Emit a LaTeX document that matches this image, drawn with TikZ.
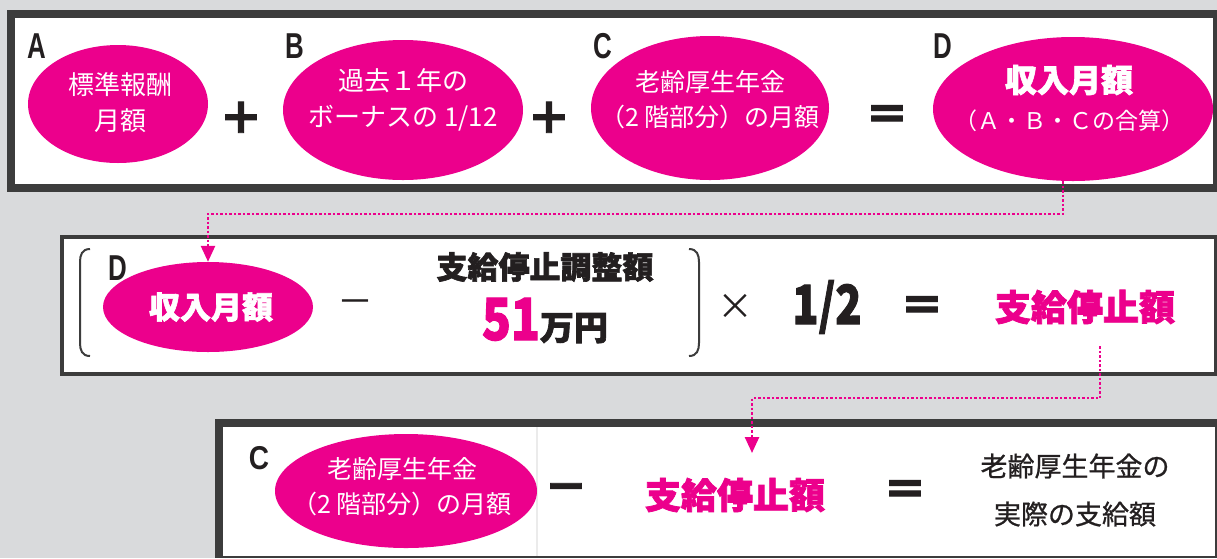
\documentclass[tikz,border=0pt]{standalone}
\usepackage{fontspec}
\setmainfont{Noto Sans CJK JP}
\newfontfamily\heavy{Noto Sans CJK JP}[BoldFeatures={FakeBold=2}]
\newfontfamily\med{Noto Sans CJK JP}[FakeBold=0.8]
\newfontfamily\lat{Liberation Sans}
\usetikzlibrary{arrows.meta,calc,shapes.geometric}
\definecolor{bg}{HTML}{D9DADC}
\definecolor{frame}{HTML}{3C3C3C}
\definecolor{mag}{HTML}{EC008C}
\definecolor{ink}{HTML}{231F20}
\newcommand\narrowtxt[2]{\scalebox{#1}[1]{#2}}
\begin{document}
\begin{tikzpicture}[x=1pt,y=-1pt,
  oval/.style={ellipse, fill=mag, inner sep=0pt},
  lbl/.style={inner sep=0pt, text=ink, font=\lat\bfseries\fontsize{36}{36}\selectfont},
  op/.style={inner sep=0pt, text=ink, font=\heavy\bfseries\fontsize{44}{44}\selectfont},
  wtxt/.style={inner sep=0pt, text=white, align=center, font=\fontsize{26}{36}\selectfont},
  plain/.style={inner sep=0pt, text=ink},
  conn/.style={mag, line width=2.5pt, dash pattern=on 2.5pt off 2pt, -{Triangle[width=14pt,length=16pt]}},
  brk/.style={frame, line width=2pt}]
\fill[bg] (0,0) rectangle (1217,558);
\useasboundingbox (0,0) rectangle (1217,558);
% boxes
\fill[frame] (7,10) rectangle (1217,192);
\fill[white] (15,18) rectangle (1213,184);
\fill[frame] (60,235) rectangle (1217,376);
\fill[white] (64,239) rectangle (1214,372);
\fill[frame] (215,419) rectangle (1217,558);
\fill[white] (223,427) rectangle (1215,556);
\draw[black!8, line width=1.5pt] (537,427) -- (537,556);

% row 1
\node[lbl] (la) at (37,46) {\narrowtxt{0.72}{A}};
\node[lbl] (lb) at (295,46) {\narrowtxt{0.72}{B}};
\node[lbl] (lc) at (603,46) {\narrowtxt{0.72}{C}};
\node[lbl] (ld) at (943,46) {\narrowtxt{0.72}{D}};
\node[oval, minimum width=180pt, minimum height=118pt] (eA) at (118,104) {};
\node[wtxt] (tA) at (120,103) {標準報酬\\月額};
\node[op] (p1) at (241,118) {＋};
\node[oval, minimum width=240pt, minimum height=140pt] (eB) at (403,110) {};
\node[wtxt] (tB) at (403,100) {過去１年の\\ボーナスの 1/12};
\node[op] (p2) at (549,118) {＋};
\node[oval, minimum width=238pt, minimum height=144pt] (eC) at (710,108) {};
\node[wtxt, font=\fontsize{25}{35}\selectfont] (tC) at (710,100) {老齢厚生年金\\（2 階部分）の月額};
\node[op] (q1) at (887,118) {＝};
\node[oval, minimum width=280pt, minimum height=144pt] (eD) at (1073,109) {};
\node[plain, text=white, font=\heavy\bfseries\fontsize{32}{32}\selectfont] (tD1) at (1069,80) {収入月額};
\node[plain, text=white, font=\fontsize{23}{23}\selectfont] (tD2) at (1069,121) {（Ａ・Ｂ・Ｃの合算）};

% row 2
\draw[brk] (90,249) .. controls (82,249) and (80,255) .. (80,262) -- (80,343) .. controls (80,350) and (82,356) .. (90,356);
\draw[brk] (689,249) .. controls (697,249) and (699,255) .. (699,262) -- (699,343) .. controls (699,350) and (697,356) .. (689,356);
\node[lbl] (ld2) at (118,268) {\narrowtxt{0.72}{D}};
\node[oval, minimum width=210pt, minimum height=90pt] (e2) at (208,307) {};
\node[plain, text=white, font=\heavy\bfseries\fontsize{31}{31}\selectfont] (t2) at (211,307) {収入月額};
\node[plain, font=\fontsize{36}{36}\selectfont] (m1) at (355,307) {－};
\node[plain, font=\heavy\bfseries\fontsize{31}{31}\selectfont] (adj) at (545,267) {支給停止調整額};
\node[plain, font=\heavy\bfseries, anchor=base] (amt) at (545,340) {{\color{mag}\fontsize{58}{58}\selectfont\narrowtxt{0.82}{51}}{\fontsize{34}{34}\selectfont 万円}};
\node[plain, font=\fontsize{36}{36}\selectfont] (x1) at (735,307) {×};
\node[plain, font=\heavy\bfseries\fontsize{54}{54}\selectfont] (half) at (827,307) {\narrowtxt{0.8}{1/2}};
\node[op] (q2) at (922,309) {＝};
\node[plain, text=mag, font=\heavy\bfseries\fontsize{36}{36}\selectfont] (b2) at (1085,307) {支給停止額};

% row 3
\node[plain, font=\lat\bfseries\fontsize{33}{33}\selectfont] (lc3) at (259,458) {\narrowtxt{0.85}{C}};
\node[oval, minimum width=262pt, minimum height=114pt] (e3) at (406,491) {};
\node[wtxt, font=\fontsize{25}{35}\selectfont] (t3) at (402,487) {老齢厚生年金\\（2 階部分）の月額};
\node[op] (m2) at (566,493) {－};
\node[plain, text=mag, font=\heavy\bfseries\fontsize{36}{36}\selectfont] (b3) at (735,495) {支給停止額};
\node[op] (q3) at (905,493) {＝};
\node[plain, align=center, font=\med\fontsize{27}{48}\selectfont] (res) at (1075,490) {老齢厚生年金の\\実際の支給額};

% connectors
\draw[conn] ($(eD.south)+(-10,0)$) |- ($(e2.north)+(0,-48)$) -- (e2.north);
\coordinate (s2) at (1100,346);
\coordinate (tt) at (752,453);
\draw[conn] (s2) |- ($(tt)+(0,-55)$) -- (tt);
\end{tikzpicture}
\end{document}
